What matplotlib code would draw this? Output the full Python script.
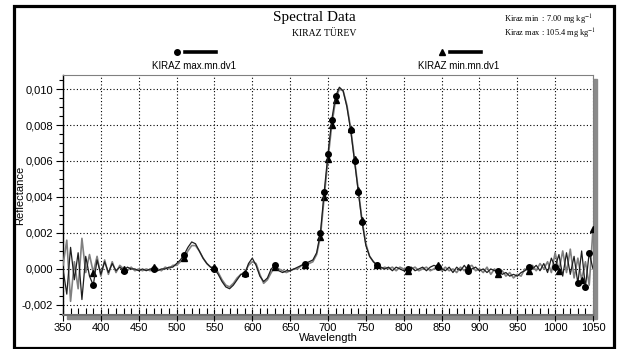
import matplotlib
matplotlib.use("Agg")

import matplotlib.pyplot as plt
from matplotlib.lines import Line2D
from matplotlib.patches import Rectangle
from matplotlib.ticker import MultipleLocator, FuncFormatter
import numpy as np

W, H = 617, 349

# wavelength grid (nm)
wavelength = np.arange(350, 1051, 5)

# reflectance derivative, in units of 1e-4
kiraz_max = [
    0, -14, 12, -6, 9, -17, 7, -4, -9, 5, -3, 4, -2, 3, -1,          # 350-420
    1, -1, 1, 0, 0, -1, 0, -1, 0, 0, -1, 0, 0, 1, 1,                 # 425-495
    3, 5, 8, 12, 15, 14, 10, 6, 3, 1, 0,                             # 500-550
    -3, -7, -10, -11, -9, -6, -3, -3, 3, 6,                          # 555-600
    2, -4, -7, -5, 0, 2, -1, -2, -1, -1, 0, 1, 2, 3, 4, 5,           # 605-680
    9, 20, 43, 64, 83, 96, 101, 99, 90, 77, 60, 43, 26, 13, 7, 4, 2, 1,  # 685-770
    0, 1, -1, 1, 0, -1, 0, 1, -1, 0, 1, -1, 1, 2, 1, 0, -1, 1,      # 775-860
    -2, 1, -1, 2, -1, 0, 1, -1, 0, -2, 0, -1, -1, -3, -2, -4, -3,    # 865-945
    -4, -2, -1, 1, 0, 2, -1, 3, -2, 6, 1, 8, -4, 9, -3, 7, -8, 10, -10, 9, 0,  # 950-1050
]
kiraz_min = [
    2, 16, -18, 4, -11, 17, -2, 8, -2, 7, -4, 5, -3, 4, -2,
    2, 0, -1, 1, -1, 0, -1, 0, -1, 1, 0, -1, 1, 0, 2,
    2, 4, 6, 10, 13, 13, 10, 6, 3, 1, 1,
    -2, -6, -9, -10, -8, -5, -3, -2, 2, 4,
    3, -3, -8, -6, -2, 1, 0, -1, -2, -1, 0, 0, 2, 2, 3, 4,
    8, 18, 40, 61, 80, 94, 100, 99, 91, 78, 61, 44, 27, 14, 7, 4, 2, 0,
    1, 0, 1, -1, 1, 0, -1, 0, 1, -1, 0, 1, -1, 0, 2, -1, 1, -1,
    0, -2, 1, -1, 1, 2, -1, 0, -2, 1, -3, 0, -3, -1, -4, -2, -5,
    -3, -4, 0, -1, 2, -1, 3, 0, 4, -2, 9, -1, 10, -2, 11, -5, 6, -6, 4, -9, 22,
]

# indices of the points that carry a marker
max_marks = [8, 16, 24, 32, 40, 48, 56, 64, 68, 69, 70, 71, 72, 76, 77, 78, 79, 83,
             91, 99, 107, 115, 123, 130, 136, 138, 139]
min_marks = [8, 16, 24, 32, 40, 48, 56, 64, 68, 69, 70, 71, 72, 76, 77, 78, 79, 83,
             91, 99, 107, 115, 123, 131, 137, 140]

max_vals = np.array(kiraz_max) * 1e-4
min_vals = np.array(kiraz_min) * 1e-4


def fx(px):
    return px / W


def fy(py):
    return 1 - py / H


plt.rcParams["font.family"] = ["Liberation Sans", "DejaVu Sans"]
plt.rcParams["mathtext.fontset"] = "stix"

fig = plt.figure(figsize=(W / 100, H / 100), dpi=100)
ax = fig.add_axes([fx(63), fy(315), (593 - 63) / W, (315 - 75) / H])

# shadow behind the plot area
fig.add_artist(Rectangle((fx(67), fy(319)), (593 - 63) / W, (315 - 75) / H,
                         transform=fig.transFigure, color="#8a8a8a", zorder=-1))
# outer frame
fig.add_artist(Rectangle((fx(13.5), fy(347.5)), (614 - 13.5) / W, (347.5 - 5.5) / H,
                         transform=fig.transFigure, fill=False, lw=2.3,
                         edgecolor="black", zorder=10))

ax.plot(wavelength, min_vals, color="#808080", lw=1.2, marker="^", ms=4,
        mfc="black", mec="black", markevery=min_marks, zorder=3)
ax.plot(wavelength, max_vals, color="#1e1e1e", lw=0.9, marker="o", ms=4,
        mfc="black", mec="black", markevery=max_marks, zorder=4)

ax.set_xlim(350, 1050)
ax.set_ylim(-0.00256, 0.01078)

ax.xaxis.set_major_locator(MultipleLocator(50))
ax.xaxis.set_minor_locator(MultipleLocator(10))
ax.yaxis.set_major_locator(MultipleLocator(0.002))
ax.yaxis.set_minor_locator(MultipleLocator(0.0005))
ax.yaxis.set_major_formatter(FuncFormatter(lambda v, p: f"{round(v, 6) + 0:.3f}".replace(".", ",")))

ax.tick_params(axis="x", which="major", direction="inout", length=9, width=0.8, labelsize=8, pad=1)
ax.tick_params(axis="x", which="minor", direction="in", length=5, width=0.8)
ax.tick_params(axis="y", which="major", direction="out", length=5, width=0.8, labelsize=8, pad=2)
ax.tick_params(axis="y", which="minor", direction="out", length=3, width=0.8)

ax.grid(True, which="major", color="black", linestyle=(0, (1, 2)), lw=0.8)

for side in ["top", "right"]:
    ax.spines[side].set_color("#808080")
    ax.spines[side].set_linewidth(0.8)
ax.spines["bottom"].set_color("#707070")
ax.spines["bottom"].set_linewidth(1.5)
ax.spines["left"].set_color("black")
ax.spines["left"].set_linewidth(1.0)

fig.text(fx(20), fy(195), "Reflectance", rotation=90, ha="center", va="center", fontsize=8)
ax.set_xlabel("Wavelength", fontsize=8, labelpad=0)

# titles
fig.text(fx(314), fy(18), "Spectral Data", ha="center", va="center",
         family="Liberation Serif", fontsize=11)
fig.text(fx(324), fy(33), "KIRAZ TÜREV", ha="center", va="center",
         family="Liberation Serif", fontsize=7)
fig.text(fx(504), fy(20), "Kiraz min  : 7.00 mg kg$^{-1}$", ha="left", va="center",
         family="Liberation Serif", fontsize=6)
fig.text(fx(504), fy(34), "Kiraz max : 105.4 mg kg$^{-1}$", ha="left", va="center",
         family="Liberation Serif", fontsize=6)

# legend
legend_items = [("KIRAZ max.mn.dv1", "o", 177, 194), ("KIRAZ min.mn.dv1", "^", 442, 459)]
for label, mk, mx, tx in legend_items:
    fig.add_artist(Line2D([fx(mx)], [fy(52)], marker=mk, ms=4, color="black",
                          transform=fig.transFigure))
    fig.add_artist(Line2D([fx(mx + 8), fx(mx + 39)], [fy(52), fy(52)], lw=2.6,
                          color="black", transform=fig.transFigure))
    fig.text(fx(tx), fy(66), label, ha="center", va="center", fontsize=7)

fig.savefig("out.png", dpi=100)
